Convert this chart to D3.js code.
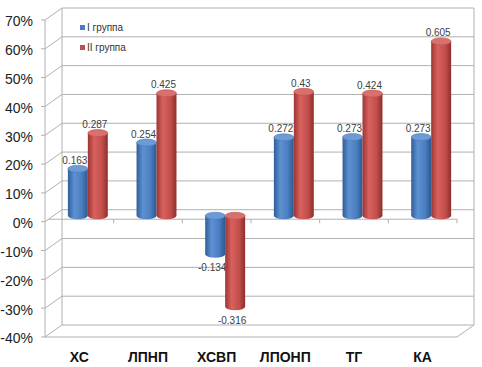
<!DOCTYPE html>
<html>
<head>
<meta charset="utf-8">
<script src="https://cdn.jsdelivr.net/npm/d3@7"></script>
<style>
  body { margin: 0; background: #fff; }
  svg { display: block; }
</style>
</head>
<body>
<svg width="482" height="367"></svg>
<script>
var categories = ["ХС", "ЛПНП", "ХСВП", "ЛПОНП", "ТГ", "КА"];
var seriesNames = ["I группа", "II группа"];
var group1 = [0.163, 0.254, -0.134, 0.272, 0.273, 0.273];
var group2 = [0.287, 0.425, -0.316, 0.43, 0.424, 0.605];
var yTicks = [-0.4, -0.3, -0.2, -0.1, 0, 0.1, 0.2, 0.3, 0.4, 0.5, 0.6, 0.7];

var svg = d3.select("svg"),
    width = +svg.attr("width"),
    height = +svg.attr("height");

var font = "'Liberation Sans', Arial, sans-serif";
var gridColor = "#b0b0b0";

// 3d depth offset of the back wall
var dx = 17, dy = -12;
var left = 45, right = 457;

var y = d3.scaleLinear().domain([-0.4, 0.7]).range([337, 20]);
var x0 = d3.scaleBand().domain(categories).range([left, right]);
var x1 = d3.scaleBand().domain(seriesNames).range([0, x0.bandwidth()]).paddingOuter(0.72);

var defs = svg.append("defs");
var palette = [
  { id: "g1", stops: ["#2f5e99", "#5d91d2", "#4a7ec0", "#2c5890"], top: "#6d9bd6" },
  { id: "g2", stops: ["#9b3533", "#d8615e", "#c24f4c", "#8f2e2c"], top: "#d8716e" }
];
palette.forEach(function(p) {
  var grad = defs.append("linearGradient")
      .attr("id", p.id)
      .attr("x1", 0).attr("y1", 0)
      .attr("x2", 1).attr("y2", 0);
  [0, 0.32, 0.7, 1].forEach(function(o, i) {
    grad.append("stop").attr("offset", o).attr("stop-color", p.stops[i]);
  });
});

var g = svg.append("g").attr("class", "frame");

// back wall gridlines
g.selectAll(".grid")
  .data(yTicks).enter().append("line")
    .attr("x1", left + dx).attr("x2", right + dx)
    .attr("y1", function(d) { return y(d) + dy; })
    .attr("y2", function(d) { return y(d) + dy; })
    .attr("stroke", gridColor);

// side wall diagonals
g.selectAll(".side")
  .data(yTicks).enter().append("line")
    .attr("x1", left).attr("x2", left + dx)
    .attr("y1", function(d) { return y(d); })
    .attr("y2", function(d) { return y(d) + dy; })
    .attr("stroke", gridColor);

// walls edges and floor
var edges = [
  [left + dx, y(0.7) + dy, left + dx, y(-0.4) + dy],
  [right + dx, y(0.7) + dy, right + dx, y(-0.4) + dy],
  [left, y(-0.4), right, y(-0.4)],
  [right, y(-0.4), right + dx, y(-0.4) + dy],
  [left, y(0.7), left, y(-0.4)]
];
g.selectAll(".edge")
  .data(edges).enter().append("line")
    .attr("x1", function(d) { return d[0]; })
    .attr("y1", function(d) { return d[1]; })
    .attr("x2", function(d) { return d[2]; })
    .attr("y2", function(d) { return d[3]; })
    .attr("stroke", gridColor);

// y ticks and labels
g.selectAll(".ytick")
  .data(yTicks).enter().append("line")
    .attr("x1", left - 4).attr("x2", left)
    .attr("y1", function(d) { return y(d); })
    .attr("y2", function(d) { return y(d); })
    .attr("stroke", gridColor);

g.selectAll(".ylabel")
  .data(yTicks).enter().append("text")
    .attr("x", 33)
    .attr("y", function(d) { return y(d) + 1.5; })
    .attr("dy", "0.35em")
    .attr("text-anchor", "end")
    .attr("font-family", font)
    .attr("font-size", 14)
    .attr("fill", "#222")
    .text(function(d) { return Math.round(d * 100) + "%"; });

// category axis at zero
var axisY = y(0) - 2.5;
g.append("line")
  .attr("x1", left + 4).attr("x2", right)
  .attr("y1", axisY).attr("y2", axisY)
  .attr("stroke", gridColor);
g.selectAll(".xtick")
  .data(categories).enter().append("line")
    .attr("x1", function(d) { return x0(d) + x0.bandwidth(); })
    .attr("x2", function(d) { return x0(d) + x0.bandwidth(); })
    .attr("y1", axisY).attr("y2", axisY + 4)
    .attr("stroke", gridColor);

g.selectAll(".xlabel")
  .data(categories).enter().append("text")
    .attr("x", function(d) { return x0(d) + x0.bandwidth() / 2; })
    .attr("y", 362)
    .attr("text-anchor", "middle")
    .attr("font-family", font)
    .attr("font-size", 14)
    .attr("font-weight", "bold")
    .attr("fill", "#111")
    .text(function(d) { return d; });

// cylinders
var rows = [];
categories.forEach(function(c, i) {
  rows.push({ cat: c, s: 0, v: group1[i] });
  rows.push({ cat: c, s: 1, v: group2[i] });
});

var rx = x1.bandwidth() / 2, ry = 3.5;

function geom(d) {
  var cx = x0(d.cat) + x1(seriesNames[d.s]) + rx + dx / 2;
  var yTop = y(Math.max(d.v, 0)) + dy / 2;
  var yBot = y(Math.min(d.v, 0)) + dy / 2;
  return { cx: cx, yTop: yTop, yBot: yBot };
}

var bars = svg.append("g").attr("class", "bars")
  .selectAll(".bar")
  .data(rows).enter().append("g")
    .attr("class", "bar");

bars.append("path")
  .attr("d", function(d) {
    var m = geom(d);
    return "M" + (m.cx - rx) + "," + m.yTop +
      "L" + (m.cx - rx) + "," + m.yBot +
      "A" + rx + "," + ry + " 0 0 0 " + (m.cx + rx) + "," + m.yBot +
      "L" + (m.cx + rx) + "," + m.yTop + "Z";
  })
  .attr("fill", function(d) { return "url(#" + palette[d.s].id + ")"; });

bars.append("ellipse")
  .attr("cx", function(d) { return geom(d).cx; })
  .attr("cy", function(d) { return geom(d).yTop; })
  .attr("rx", rx)
  .attr("ry", ry)
  .attr("fill", function(d) { return palette[d.s].top; })
  .attr("stroke", function(d) { return palette[d.s].stops[2]; })
  .attr("stroke-width", 0.6);

bars.append("text")
  .attr("x", function(d) { return geom(d).cx - 3; })
  .attr("y", function(d) {
    var m = geom(d);
    return d.v >= 0 ? m.yTop - 5 : m.yBot + 17;
  })
  .attr("text-anchor", "middle")
  .attr("font-family", font)
  .attr("font-size", 10)
  .attr("fill", "#404040")
  .text(function(d) { return String(d.v); });

// legend
var legend = svg.append("g").attr("class", "legend")
  .selectAll(".item")
  .data(seriesNames).enter().append("g")
    .attr("transform", function(d, i) { return "translate(80," + (25 + i * 20) + ")"; });
legend.append("rect")
  .attr("width", 5).attr("height", 5)
  .attr("fill", function(d, i) { return palette[i].stops[2]; });
legend.append("text")
  .attr("x", 7).attr("y", 5.5)
  .attr("font-family", font)
  .attr("font-size", 10)
  .attr("fill", "#333")
  .text(function(d) { return d; });
</script>
</body>
</html>
